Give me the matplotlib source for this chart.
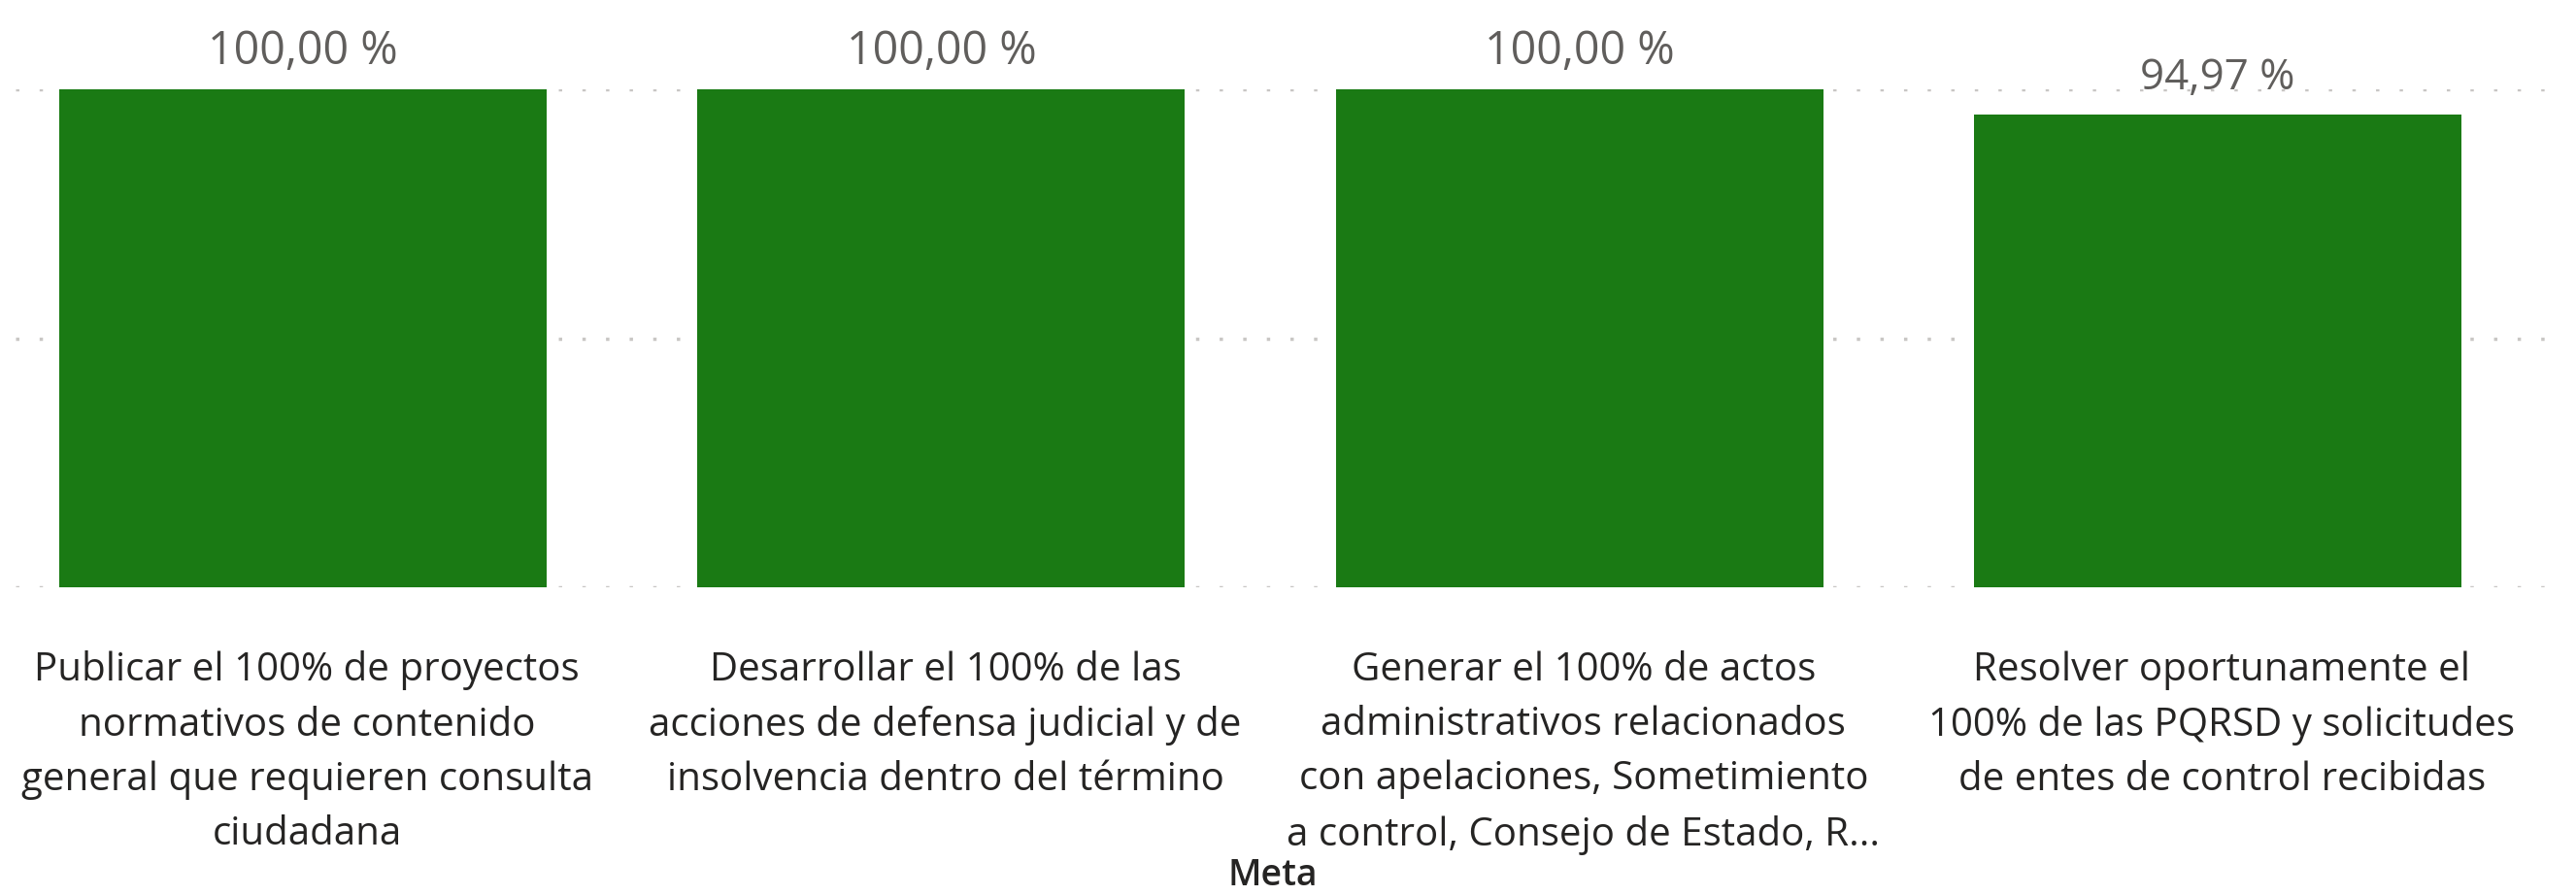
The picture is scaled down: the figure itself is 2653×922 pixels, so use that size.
import matplotlib
matplotlib.use("Agg")
import matplotlib.pyplot as plt

categories = [
    "Publicar el 100% de proyectos\nnormativos de contenido\ngeneral que requieren consulta\nciudadana",
    "Desarrollar el 100% de las\nacciones de defensa judicial y de\ninsolvencia dentro del término",
    "Generar el 100% de actos\nadministrativos relacionados\ncon apelaciones, Sometimiento\na control, Consejo de Estado, R...",
    "Resolver oportunamente el\n100% de las PQRSD y solicitudes\nde entes de control recibidas",
]
values = [1.0, 1.0, 1.0, 0.9497]
value_labels = ["100,00 %", "100,00 %", "100,00 %", "94,97 %"]
axis_title = "Meta"

plt.rcParams['font.family'] = ['Open Sans', 'DejaVu Sans']

W, H = 2653, 922
fig = plt.figure(figsize=(W / 100, H / 100), dpi=100)
y0_px, y1_px = 605, 92
x0_px, x1_px = 16, 2631
ax = fig.add_axes([x0_px / W, 1 - y0_px / H, (x1_px - x0_px) / W, (y0_px - y1_px) / H])

xs = list(range(len(categories)))
ax.bar(xs, values, width=0.764, color="#1A7A14", zorder=2)
ax.set_xlim(-0.4505, 3.528)
ax.set_ylim(0, 1)

for y in [0, 0.5, 1.0]:
    ax.axhline(y, color="#C8C6C4", linewidth=2.5, linestyle=(0, (1, 6)), zorder=1)

for spine in ax.spines.values():
    spine.set_visible(False)
ax.set_xticks([])
ax.set_yticks([])

for i, (v, lab) in enumerate(zip(values, value_labels)):
    fs = 33.5 if v >= 1.0 else 31.5
    ax.annotate(lab, xy=(i, v), xytext=(0, 11), textcoords="offset points",
                ha="center", va="bottom", fontsize=fs, color="#605E5C",
                annotation_clip=False)

for i, cat in enumerate(categories):
    ax.annotate(cat, xy=(i, 0), xycoords=("data", "axes fraction"),
                xytext=(3, -47), textcoords="offset points",
                ha="center", va="top", fontsize=29, color="#252423",
                linespacing=1.52, annotation_clip=False)

fig.text(1311 / W, 1 - 902 / H, axis_title, ha="center", va="center",
         fontsize=27, fontweight="semibold", color="#252423")

fig.savefig("out.png", dpi=100, facecolor="white")
